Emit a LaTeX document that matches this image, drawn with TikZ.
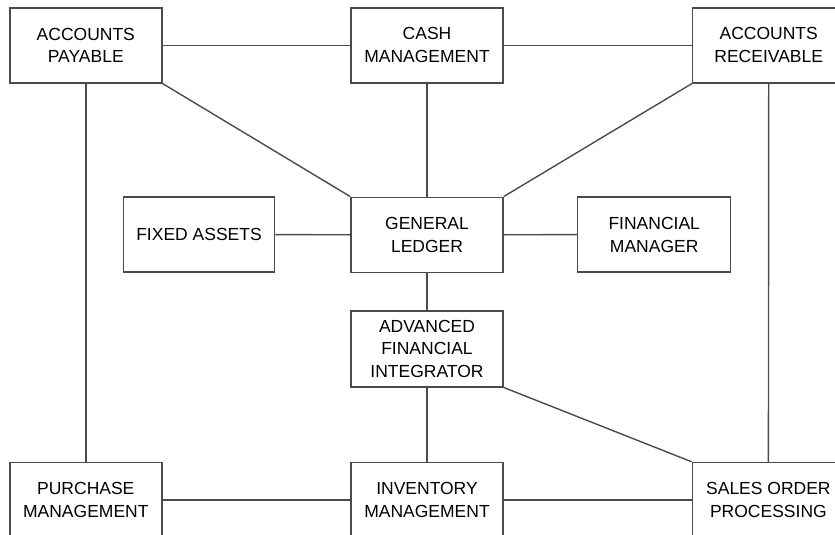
\documentclass[tikz,border=0pt]{standalone}
\usepackage{fontspec}
\setmainfont{Liberation Sans}
\definecolor{edge}{RGB}{75,75,75}
\begin{document}
\begin{tikzpicture}[x=1pt,y=-1pt,
  box/.style={draw=edge,line width=1.5pt,fill=white,minimum width=152pt,minimum height=75pt,
    inner sep=0pt,align=center,font=\fontsize{17.5}{22.8}\selectfont,text=black},
  link/.style={draw=edge,line width=1.4pt}]
\useasboundingbox (0,0) rectangle (835,535);
\clip (0,0) rectangle (835,535);
\fill[white] (0,0) rectangle (835,535);
\node[box] (ap)  at (85.8,45.3) {ACCOUNTS\\PAYABLE};
\node[box] (cm)  at (427,45.3) {CASH\\MANAGEMENT};
\node[box] (ar)  at (768.7,45.3) {ACCOUNTS\\RECEIVABLE};
\node[box,minimum width=151.4pt] (fa) at (199,234.6) {FIXED ASSETS};
\node[box] (gl)  at (427,234.8) {GENERAL\\LEDGER};
\node[box,minimum width=153pt] (fm) at (654.2,234.6) {FINANCIAL\\MANAGER};
\node[box,minimum height=75.7pt] (afi) at (427,348.9) {ADVANCED\\FINANCIAL\\INTEGRATOR};
\node[box] (pm)  at (85.8,500) {PURCHASE\\MANAGEMENT};
\node[box] (im)  at (427,500) {INVENTORY\\MANAGEMENT};
\node[box] (sop) at (768.4,500) {SALES ORDER\\PROCESSING};
\draw[link] (ap.east) -- (cm.west);
\draw[link] (cm.east) -- (ar.west);
\draw[link] (ap.south east) -- (gl.north west);
\draw[link] (ar.south west) -- (gl.north east);
\draw[link] (cm.south) -- (gl.north);
\draw[link] (fa.east) -- (gl.west);
\draw[link] (gl.east) -- (fm.west);
\draw[link] (gl.south) -- (afi.north);
\draw[link] (afi.south east) -- (sop.north west);
\draw[link] (afi.south) -- (im.north);
\draw[link] (pm.east) -- (im.west);
\draw[link] (im.east) -- (sop.west);
\draw[link] (ap.south) -- (pm.north);
\draw[link] (ar.south) -- (sop.north);
\end{tikzpicture}
\end{document}
